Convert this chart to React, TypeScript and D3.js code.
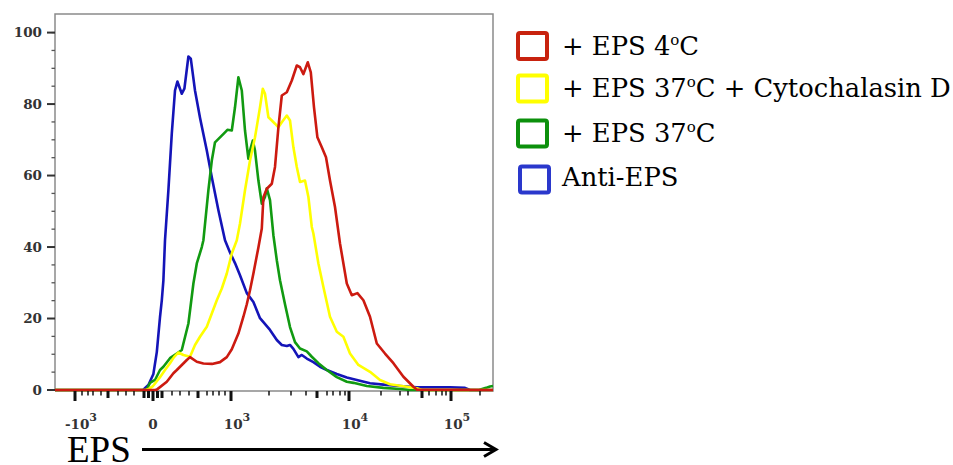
import React from "react";
import * as d3 from "d3";

// x values are histogram display channels (0..219), y values are % of max
const blueX = [0, 44, 46.7, 49.2, 50.9, 52.5, 53.4, 54.2, 55, 56.7, 58.4, 60, 61.2, 63.4, 64.7, 66.7, 67.9, 70, 72.5, 75.9, 78.4, 81.7, 85, 87.5, 90, 92.5, 95.9, 99.2, 102.5, 107.5, 110.9, 113.4, 115.9, 117.5, 119.2, 121.7, 123.4, 125.9, 129.2, 132.5, 135.9, 140.9, 145.9, 150.9, 157.5, 164.2, 172.5, 180.9, 189.2, 197.5, 205, 207.5, 219];
const blueY = [0, 0, 1.4, 4.5, 10.6, 20.4, 25.1, 30.7, 41.9, 55.9, 71.8, 83.8, 86.3, 82.9, 84.3, 93.3, 92.7, 83.8, 76.2, 67.0, 59.5, 50.3, 41.9, 38.5, 35.5, 32.1, 27.1, 24.6, 20.1, 16.8, 14.0, 12.6, 12.3, 12.6, 11.5, 9.2, 9.8, 8.8, 7.8, 6.5, 5.6, 4.5, 3.5, 2.8, 1.9, 1.5, 1.1, 0.75, 0.75, 0.75, 0.6, 0, 0];

const greenX = [0, 45, 45.9, 47.5, 50, 52.5, 54.2, 57.5, 60.9, 63.4, 64.2, 66.7, 69.2, 70.9, 73.4, 74.2, 76.7, 78.4, 80, 82.5, 85, 86.2, 88.4, 90, 91.7, 93.4, 95, 96.7, 97.5, 98.9, 100, 101.7, 103.4, 105, 105.9, 107.5, 109.2, 110.9, 112.5, 115, 117.5, 120, 122.5, 125.9, 128.4, 131.7, 135.9, 140.9, 145.9, 149.2, 155.9, 164.2, 172.5, 177.5, 212, 215.5, 217.5, 219];
const greenY = [0, 0, 0.2, 2.0, 2.8, 5.6, 6.5, 8.9, 10.2, 11.2, 13.0, 18.6, 29.8, 35.4, 40.0, 41.9, 55.9, 64.2, 69.3, 70.7, 72.1, 72.8, 72.6, 79.1, 87.5, 83.8, 72.6, 64.7, 67.0, 69.8, 67.0, 58.6, 52.1, 54.0, 56.4, 53.1, 43.3, 36.3, 30.7, 24.0, 17.6, 13.4, 11.6, 10.8, 9.3, 7.5, 5.6, 3.6, 2.3, 2.0, 1.1, 0.6, 0.3, 0, 0, 0.6, 1.0, 1.1];

const yellowX = [0, 45.5, 46.9, 49, 52.5, 55, 57.5, 59.5, 61.7, 64.2, 67.5, 70, 72.5, 75.9, 78.4, 80.9, 83.4, 85.9, 88.4, 90.9, 92.5, 95, 97.5, 100, 102.5, 103.9, 105, 106.7, 108.4, 110, 111.7, 113.4, 115.9, 117.5, 119.2, 120.9, 122.5, 125, 126.7, 128.4, 129.2, 131.7, 134.2, 137.5, 140.9, 144.2, 147.5, 151.7, 157.5, 162.5, 167.5, 175.9, 180.9, 183.5, 219];
const yellowY = [0, 0, 0.3, 1.1, 3.6, 5.6, 7.5, 9.2, 10.5, 9.8, 9.3, 12.6, 14.9, 17.7, 21.4, 25.1, 28.4, 32.6, 38.2, 41.9, 46.6, 55.9, 64.2, 70.7, 79.1, 84.3, 82.9, 76.3, 75.4, 74.5, 73.5, 74.9, 76.8, 75.4, 67.9, 62.4, 58.2, 58.6, 54.0, 45.6, 43.8, 35.4, 28.8, 20.5, 16.3, 14.9, 10.2, 7.0, 5.1, 2.8, 1.6, 0.9, 0.5, 0, 0];

const redX = [0, 50, 50.9, 55.9, 59.2, 60.9, 65.9, 67.5, 70.9, 74.2, 78.5, 82.5, 85.9, 88.4, 91.7, 94.2, 95.9, 97.5, 99.2, 101.7, 103.4, 104.2, 105.9, 108.4, 110, 111.7, 113.4, 115.9, 118.4, 120.9, 122.5, 124.2, 126.4, 127.9, 129.5, 131.2, 133.4, 135.5, 137.5, 140, 142.5, 145.9, 148.4, 151.2, 154.2, 157.5, 160.9, 165, 169.2, 174.2, 179.2, 181, 219];
const redY = [0, 0, 0.1, 2.3, 4.7, 5.6, 8.4, 9.2, 7.9, 7.4, 7.3, 7.8, 9.2, 11.4, 15.8, 20.5, 24.0, 27.9, 32.6, 39.9, 45.2, 53.9, 56.3, 57.7, 62.4, 73.5, 82.4, 83.3, 86.6, 90.8, 90.3, 88.4, 91.7, 88.9, 79.1, 70.7, 67.9, 65.1, 58.6, 51.2, 41.0, 29.8, 26.5, 27.1, 25.1, 20.5, 13.0, 10.2, 7.5, 3.7, 0.9, 0.1, 0];

const seriesNames = ["+ EPS 4", "+ EPS 37", "+ EPS 37", "Anti-EPS"];
const seriesColors = ["#cc1a10", "#ffff00", "#119a11", "#1414b8"];
const legendColors = ["#c8220e", "#ffff00", "#0c900c", "#2a38cc"];

const yTicks = [0, 20, 40, 60, 80, 100];
const yMinor = [5, 10, 15, 25, 30, 35, 45, 50, 55, 65, 70, 75, 85, 90, 95, 100];

// x axis ticks in channel units
const xLabeled = [10, 49, 88, 147, 198];
const xLabelBase = ["-10", "0", "10", "10", "10"];
const xLabelExp = ["3", "", "3", "4", "5"];
const xMedium = [26.5, 44.5, 46.75, 51.25, 53.5, 71.5, 131, 183.5];
const xMinor = [13.5, 16.5, 19, 23, 31.5, 35.5, 39.5, 58.5, 62.5, 67, 76, 79, 82, 85, 107, 118, 125.5, 136, 139, 142.5, 145, 163, 172.5, 176.5, 187, 190.5, 193.5, 195.5, 212.5];

export default function App() {
  const L = 55, R = 493, T = 14, B = 391;
  const x = d3.scaleLinear().domain([0, 219]).range([L, R]);
  const y = d3.scaleLinear().domain([0, 105.2]).range([390, T]);
  const line = d3
    .line<[number, number]>()
    .x((d) => x(d[0]))
    .y((d) => y(d[1]));
  const zip = (a: number[], b: number[]) => a.map((v, i) => [v, b[i]] as [number, number]);
  const curves = [
    { c: seriesColors[3], d: zip(blueX, blueY) },
    { c: seriesColors[2], d: zip(greenX, greenY) },
    { c: seriesColors[1], d: zip(yellowX, yellowY) },
    { c: seriesColors[0], d: zip(redX, redY) },
  ];
  const legendTop = [31, 73.5, 118.5, 164.5];
  const legendBase = [54.5, 97.3, 141.7, 185.7];
  const serif = "'DejaVu Serif', serif";
  const tickFont = "'DejaVu Serif', serif";

  return (
    <svg
      width={953}
      height={465}
      style={{ position: "absolute", left: 0, top: 0, background: "#fff" }}
    >
      <rect x={0} y={0} width={953} height={465} fill="#fff" />
      {/* frame */}
      <path
        d={`M${L},${B}V${T}H${R}V${B}H${L}`}
        fill="none"
        stroke="#8a8a8a"
        strokeWidth={1.5}
      />
      {/* curves */}
      {curves.map((c, i) => (
        <path
          key={i}
          d={line(c.d) || ""}
          fill="none"
          stroke={c.c}
          strokeWidth={2.6}
          strokeLinejoin="round"
        />
      ))}
      {/* y axis */}
      {yMinor.map((v) => (
        <line key={"ym" + v} x1={51.5} x2={L} y1={y(v)} y2={y(v)} stroke="#555" strokeWidth={1.3} />
      ))}
      {yTicks.map((v) => (
        <g key={"yt" + v}>
          <line x1={47} x2={L} y1={y(v)} y2={y(v)} stroke="#333" strokeWidth={2} />
          <text
            x={42}
            y={y(v)}
            dy="0.35em"
            textAnchor="end"
            fontFamily={tickFont}
            fontSize={13.5}
            fontWeight="bold"
            fill="#333"
          >
            {v}
          </text>
        </g>
      ))}
      {/* x axis ticks */}
      {xMinor.map((v) => (
        <line key={"xm" + v} x1={x(v)} x2={x(v)} y1={B} y2={B + 4.5} stroke="#111" strokeWidth={1.5} />
      ))}
      {xMedium.map((v) => (
        <line key={"xd" + v} x1={x(v)} x2={x(v)} y1={B} y2={B + 7} stroke="#111" strokeWidth={3} />
      ))}
      {xLabeled.map((v, i) => (
        <g key={"xl" + v}>
          <line x1={x(v)} x2={x(v)} y1={B} y2={B + 10} stroke="#111" strokeWidth={3} />
          <text
            x={x(v) + (xLabelExp[i] ? 6 : 0)}
            y={429}
            textAnchor="middle"
            fontFamily={tickFont}
            fontSize={13.5}
            fontWeight="bold"
            fill="#333"
          >
            {xLabelBase[i]}
            {xLabelExp[i] ? (
              <tspan dy={-8} fontSize={11}>
                {xLabelExp[i]}
              </tspan>
            ) : null}
          </text>
        </g>
      ))}
      {/* EPS axis title + arrow */}
      <text x={67} y={462} fontFamily="'Liberation Serif', serif" fontSize={37} fill="#000">
        EPS
      </text>
      <line x1={142} x2={495} y1={449.5} y2={449.5} stroke="#000" strokeWidth={3} />
      <polyline
        points="484,442.5 496,449.5 484,456.5"
        fill="none"
        stroke="#000"
        strokeWidth={3}
      />
      {/* legend */}
      {seriesNames.map((n, i) => (
        <g key={"lg" + i}>
          <rect
            x={i === 3 ? 520 : 518}
            y={legendTop[i] + 2}
            width={29}
            height={26}
            rx={2}
            fill="none"
            stroke={legendColors[i]}
            strokeWidth={4}
          />
          <text x={562} y={legendBase[i]} fontFamily={serif} fontSize={25.8} fill="#000">
            {n}
            {i < 3 ? (
              <>
                <tspan dy={-10} fontSize={15}>o</tspan>
                <tspan dy={10}>C</tspan>
                {i === 1 ? <tspan>{" + Cytochalasin D"}</tspan> : null}
              </>
            ) : null}
          </text>
        </g>
      ))}
    </svg>
  );
}
